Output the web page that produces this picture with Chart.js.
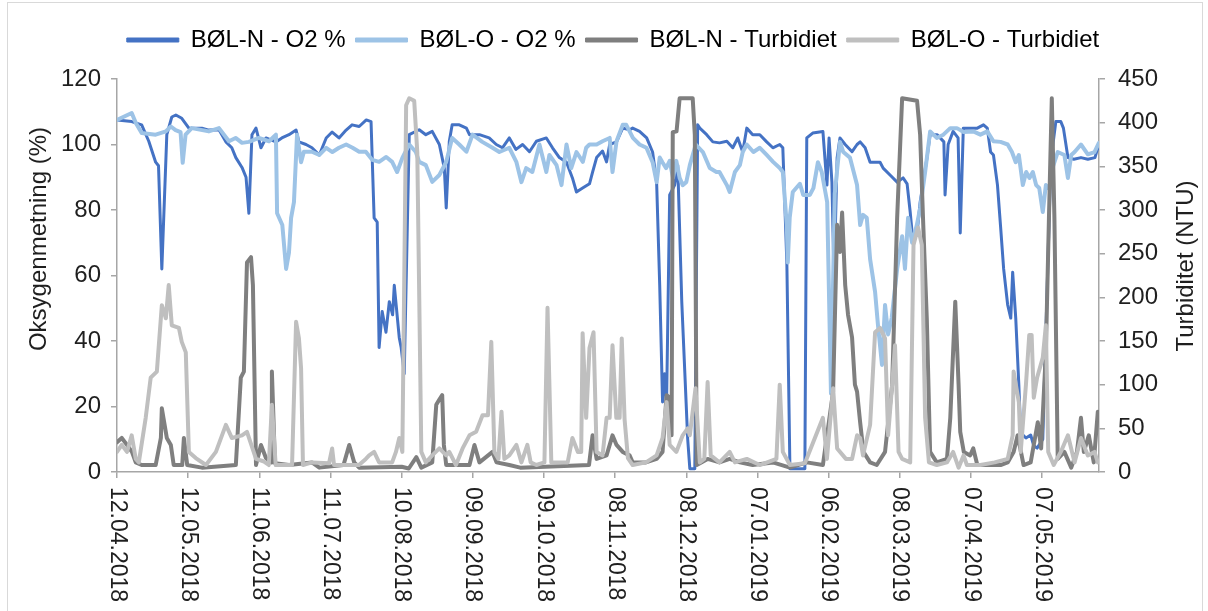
<!DOCTYPE html>
<html>
<head>
<meta charset="utf-8">
<title>BØL - O2 og turbiditet</title>
<script src="https://cdn.jsdelivr.net/npm/chart.js@4.4.1/dist/chart.umd.min.js"></script>
<style>
  html, body { margin: 0; padding: 0; background: #fff; }
  #wrap { width: 1208px; height: 611px; }
</style>
</head>
<body>
<div id="wrap"><canvas id="myChart" width="1208" height="611"></canvas></div>
<script>
// days counted from 12.04.2018 as [day, value]
const o2North = [[0,107.5],[6.2,107],[10.4,106],[13.4,101],[16.3,94.6],[17.5,93.5],[18.9,62],[21,103],[23.1,108.4],[24.8,109],[27.3,108],[30.3,105],[35.8,105],[38.7,104.4],[43,104.5],[45.9,100.8],[48.4,99],[50.1,96],[52.7,93],[54.4,90],[55.6,79],[56.9,103],[58.6,105],[60.7,99],[62.8,102],[67,100.8],[69.5,102],[72.5,103],[75.5,104.4],[76.7,100.8],[79.7,100],[82.2,99],[85.3,96.8],[88.2,102],[90.7,103.8],[93.6,102],[96.6,104.4],[99.1,106],[102.1,105.5],[105.1,107.5],[107.1,107],[108.4,77.6],[109.7,76.3],[110.5,38],[111.8,49],[113.4,42.7],[114.8,52],[116.2,48],[116.9,57],[119,41],[119.8,38],[121.1,30],[123.2,103],[127.4,104.5],[130.2,103],[132.9,104],[135.9,100],[138,92.8],[138.8,80.6],[140.1,101],[141.3,106],[144.3,106],[147.3,105],[148.6,103],[152.8,103],[156.9,102],[159.9,100],[162.5,99],[165.4,102],[168.2,98.5],[171,100],[173.9,97.8],[176.8,101],[181,102],[183.6,99],[186.5,96],[189.5,94.6],[192,89.8],[193.7,85.5],[196.3,86.7],[199.2,88],[200.5,91.6],[202.2,96],[204.7,98],[206.4,94.7],[207.7,100],[210.6,100.8],[213.2,105],[216.1,104.5],[217.4,105],[220.3,104],[223.3,102],[225.8,97.7],[227.5,88.5],[228.8,57],[230,21.4],[230.9,30],[231.7,21],[233,84.6],[235.1,87.6],[236.4,93.7],[238.1,52],[240.6,10],[241.5,1],[243.6,1],[244.8,106],[245.7,105],[248.6,103],[251.2,100.8],[254,100.5],[257.1,101],[259.6,99],[261.7,102],[263.8,97.7],[265.5,105],[268,103],[271,103],[273.9,100.8],[276.5,99],[279.4,100],[280.7,99],[282.4,64],[283.7,1],[290,1],[290.8,102],[293.3,103.5],[297.6,104],[299.3,87.6],[300.2,102],[301.4,88.5],[302.3,59],[303.6,96],[304.8,102],[307,100],[309.9,97.8],[312,100],[313.3,100.8],[315.4,99],[317.5,94.6],[321.7,94.6],[323,92.8],[325.9,90.7],[328.9,88.5],[331.4,89.8],[333.1,88],[334.4,79.4],[335.6,70],[337.3,73],[338.6,82.4],[341.5,96],[342.8,103],[345.8,103],[348.6,100.8],[349.1,84.6],[350.4,100],[352.5,104],[354.6,102],[355.5,73],[356.8,105],[361,105],[362.7,105],[365.3,106],[366.9,105],[368.3,97.7],[369.5,96.8],[371.2,87.6],[372.5,75],[373.8,62],[375.5,51],[376.8,47],[377.6,61],[378.9,47],[380.2,26.6],[381,12],[383.2,10.4],[385.2,11.3],[386.5,8],[387.9,7.3],[390.3,10],[393.7,95],[395.8,107],[397.9,107],[399,105],[400.9,96],[403.4,95.5],[406.4,96],[409.3,95.5],[412.3,96],[413.9,100]];

const o2East = [[0,107.5],[6.2,109.6],[8,106.5],[10.4,103.5],[16.3,103],[20.6,104],[22.7,105.5],[24.7,104.4],[26.8,103.8],[27.7,94.4],[28.9,103],[31.5,105],[38.7,104],[43,105],[47.2,101],[50,102],[52.7,100.5],[55.6,100.8],[59.8,102],[64.1,101],[67,103],[67.5,79],[69.7,75.4],[71.3,62],[72.5,67],[73.4,77.6],[74.6,82.4],[75.9,103],[77.6,94.6],[78.8,97.8],[82.2,97.8],[85.3,96.8],[88.2,99],[90.8,97.7],[93.6,99],[96.6,100],[99.3,99],[102.1,97.8],[104.9,97.8],[107.6,95.3],[110.5,94.7],[113.5,96.2],[116,94.7],[118.1,91.6],[120.3,95.9],[123.2,100],[126,97.7],[127.4,94.7],[130.2,93.7],[132.9,88.6],[135.9,90.7],[138.8,94.7],[141.3,102],[144.3,100],[147.3,97.8],[149.9,103],[154,100.8],[158.3,99],[161.2,97.7],[165.4,99],[168.4,94.6],[170.5,88.5],[172.5,92.8],[175.1,91.6],[178.1,100],[181,91.6],[182.3,96.8],[185.3,93.7],[187.4,87.6],[189.5,100],[191.5,92.8],[193.7,97.7],[196.4,94.7],[197.8,99],[199.2,100],[202.2,100],[204.7,101],[207.7,102],[208.9,91.6],[210.6,101],[213.2,106],[214.7,106],[217.5,102],[220.3,100],[223.2,99],[225.8,94.6],[227.5,88.5],[228.8,96],[230,94.5],[231.5,92.8],[233,95],[234.4,89.8],[235.8,95],[237.2,89.8],[238.5,87.6],[240,88.5],[241.5,93.7],[244,100],[247,97.7],[249.9,92.8],[252.7,91.6],[254,91.6],[257.1,87.6],[258.3,85.5],[260.5,91.6],[262.6,93.7],[263.8,97.7],[265.5,100],[268.3,97.7],[271,99],[273.9,96.8],[276.6,94.7],[279.4,92.8],[280.7,91.6],[282.4,75],[282.8,64],[283.6,77.6],[284.9,85.5],[287.9,88],[289.3,84.6],[292.1,84.6],[293.6,86.7],[295.5,94.6],[297.1,91.6],[299.4,82.4],[301,24],[302.6,85],[304.8,100.8],[306.2,97.7],[309,96],[312,87.6],[313.3,75.4],[314.5,78.5],[316.1,77.6],[317.5,65],[319.6,55],[320.8,45],[322.5,32.7],[323.8,51],[325.1,42],[326.6,47],[328.9,62],[331,72],[332.2,62],[333.5,77.6],[335.2,70],[337.2,75.4],[338.6,80.6],[340.7,91.6],[342.8,104],[345.6,102],[348.4,103],[351.3,105],[354.1,105],[356.9,103.8],[361,104],[364,103],[366.9,104],[369.5,101],[372.5,100.8],[375.5,100],[377.3,97.7],[378.9,94.6],[380.2,96.8],[381.9,87.6],[383.3,91.6],[384.7,89.8],[386.1,91.6],[387.5,87.6],[388.8,86.7],[390.3,79.4],[391.6,87.6],[393,86.5],[394.5,93],[396.6,97.7],[399.4,96.8],[400.9,89.8],[402.3,96.8],[403.7,97.7],[406.4,100],[409.3,97],[412.1,97.7],[413.9,100.4]];

const turbNorth = [[0,34],[2,39],[4.2,31],[6.3,23],[7.9,11],[10.4,8],[16.3,8],[18.5,39],[18.9,73],[21,39],[22.7,31],[23.9,8],[27.5,8],[28.2,39],[29.6,8],[35.8,5],[50.1,8],[52.2,108],[53.5,115],[54.8,240],[56.5,246],[57.3,214],[58.6,8],[60.7,31],[62.8,16],[65,11],[65.3,115],[66.6,10],[72.5,8],[82.2,11],[85.3,5],[95.5,8],[97.9,31],[100,11],[102.1,5],[120,6],[123,4],[126.2,17],[128.3,5],[132.9,11],[134.6,77],[135.9,83],[137.1,88],[137.8,31],[138.8,8],[148.6,8],[150.7,31],[152.8,11],[158.3,23],[160,11],[165.4,8],[170,5],[199,8],[200.5,42],[202.2,15],[206.4,19],[208.9,42],[210.6,31],[213.2,23],[216.1,19],[217.4,11],[223,11],[227.5,15],[230,23],[231.7,88],[233,85],[233.8,42],[234.3,389],[235.9,390],[237.2,428],[242.7,428],[243.6,386],[244.4,8],[249,15],[254,11],[258.3,15],[262.6,11],[268,8],[276.5,11],[283.7,5],[290.8,11],[297.6,8],[301.9,92],[303.6,283],[304.8,252],[305.7,297],[307,214],[308.2,180],[309.9,154],[311.1,100],[312,92],[313.3,57],[314.7,23],[317.5,11],[320.3,8],[323.8,23],[326.8,100],[328.9,291],[331,428],[337.3,425],[338.6,386],[339.8,291],[341.4,176],[342.8,23],[345.6,11],[349.9,15],[351.3,62],[353.4,195],[354.8,100],[355.5,46],[357,23],[359.7,19],[361,27],[362.7,8],[372.5,8],[375.5,11],[378,23],[379.7,42],[382.2,8],[385.2,11],[388.2,57],[389.6,27],[391.6,137],[392.9,291],[394.1,428],[395.2,291],[396.6,15],[399.4,23],[402.3,5],[404.7,23],[406.4,62],[407.6,23],[409.7,42],[411.8,11],[413.5,69]];

const turbEast = [[0,23],[2,31],[4.2,23],[6.2,42],[7.9,15],[9.2,11],[12.1,62],[14.2,108],[16.8,115],[18.9,191],[20.6,176],[21.8,214],[23.1,168],[26.1,165],[27.3,149],[29,137],[30.3,23],[33.2,16],[37.5,8],[41.7,23],[45.9,54],[48.4,39],[52.7,42],[54.8,46],[58.6,15],[62,12],[64,8],[65.3,77],[66.9,8],[73.8,8],[75.5,172],[76.7,153],[77.6,119],[78.4,8],[82.2,11],[89.4,10],[90.7,27],[91.5,8],[102,8],[104.9,15],[106.3,19],[108.4,23],[110.5,11],[116,11],[117.6,23],[119,39],[120.3,23],[121.9,420],[123.2,428],[125.3,425],[126.6,366],[128.3,23],[130.2,11],[132.9,19],[135.9,27],[138.8,19],[140.1,23],[142.9,8],[145.7,27],[148.6,42],[151.4,46],[154.1,65],[156.4,65],[157.8,149],[159.1,23],[160.8,15],[162.1,69],[163.3,15],[165.4,19],[168.4,31],[170.5,11],[173,31],[174.4,11],[176.8,8],[180.2,11],[181.5,188],[183.1,11],[190,11],[192,39],[194.3,23],[195.7,23],[196.3,159],[197.8,62],[199.2,142],[200.9,160],[202.2,23],[204.7,19],[206.4,62],[207.7,62],[208.9,145],[210.5,62],[211.9,62],[212.8,153],[214,60],[215.4,16],[217.4,8],[223,11],[227.5,19],[230,39],[231.7,80],[233,31],[235.8,23],[238.5,42],[240.6,50],[241.5,42],[243.9,96],[245.7,11],[247.6,15],[249,103],[250.3,19],[254,11],[258.3,23],[260.5,11],[265.5,15],[271,8],[278,15],[279.4,100],[280.7,23],[283.7,8],[290,10],[297.6,62],[299.3,15],[301.9,96],[303.6,27],[307.3,15],[309.9,15],[312,42],[313.3,39],[314.5,19],[317.5,54],[319.6,160],[321.7,165],[323.8,153],[325.1,42],[326.8,100],[328,145],[329.5,23],[331,15],[334.4,11],[335.8,260],[337.7,280],[339.3,260],[340.7,62],[342.3,11],[345.6,8],[349.9,11],[352.5,23],[354.8,5],[356.9,19],[358.3,8],[364,8],[370,11],[375.5,15],[377.6,42],[378,115],[380.2,80],[381,23],[383.2,100],[384.6,157],[385.6,157],[386.5,85],[387.9,108],[390.3,131],[391.6,168],[392.6,23],[394.9,8],[397.9,23],[400.9,42],[403.7,11],[406.4,39],[409.3,19],[412.1,23],[413.5,11]];

const seriesNames = ['BØL-N - O2 %', 'BØL-O - O2 %', 'BØL-N - Turbidiet', 'BØL-O - Turbidiet'];
const tickDays = [0, 30, 60, 90, 120, 150, 180, 210, 240, 270, 300, 330, 360, 390];
const tickLabels = ['12.04.2018', '12.05.2018', '11.06.2018', '11.07.2018', '10.08.2018', '09.09.2018', '09.10.2018',
                    '08.11.2018', '08.12.2018', '07.01.2019', '06.02.2019', '08.03.2019', '07.04.2019', '07.05.2019'];
const leftTitle = 'Oksygenmetning (%)';
const rightTitle = 'Turbiditet (NTU)';

const fontFamily = '"Liberation Sans", Arial, sans-serif';
const textColor = '#1f1f1f';
const axisColor = '#a6a6a6';

function toPoints(pairs)
{
    return pairs.map(p => ({ x: p[0], y: p[1] }));
}

// x labels read top-to-bottom and the y titles bottom-to-top, so draw them here
const extraText = {
    id: 'extraText',
    beforeLayout(chart) {
        const lg = chart.legend;
        if (lg && !lg._fixed) {
            const fit = lg.fit;
            lg.fit = function () { fit.call(this); this.height = 61; };
            lg._fixed = true;
        }
    },
    afterDraw(chart) {
        const ctx = chart.ctx;
        const xs = chart.scales.x;
        ctx.save();
        ctx.fillStyle = textColor;
        ctx.font = '23px ' + fontFamily;
        ctx.textAlign = 'left';
        ctx.textBaseline = 'middle';
        tickDays.forEach((d, i) => {
            ctx.save();
            ctx.translate(xs.getPixelForValue(d), xs.top + 15);
            ctx.rotate(Math.PI / 2);
            ctx.fillText(tickLabels[i], 0, 0);
            ctx.restore();
        });

        ctx.font = '24px ' + fontFamily;
        ctx.textAlign = 'center';
        [[leftTitle, 39, 239], [rightTitle, 1186, 266]].forEach(t => {
            ctx.save();
            ctx.translate(t[1], t[2]);
            ctx.rotate(-Math.PI / 2);
            ctx.fillText(t[0], 0, 0);
            ctx.restore();
        });

        ctx.strokeStyle = '#d9d9d9';
        ctx.lineWidth = 1;
        ctx.strokeRect(7.5, 2.5, 1195, 640);
        ctx.restore();
    }
};

function lineSet(i, pairs, axis, color, width, order)
{
    return {
        label: seriesNames[i],
        data: toPoints(pairs),
        yAxisID: axis,
        borderColor: color,
        backgroundColor: color,
        borderWidth: width,
        borderJoinStyle: 'round',
        borderCapStyle: 'round',
        pointRadius: 0,
        tension: 0,
        fill: false,
        order: order
    };
}

const gridOpts = { drawOnChartArea: false, drawTicks: true, tickLength: 6, color: axisColor, lineWidth: 1.5 };
const borderOpts = { color: axisColor, width: 1.5 };

const ctx = document.getElementById('myChart');

new Chart(ctx, {
    type: 'line',
    data: {
        datasets: [
            lineSet(0, o2North, 'y', '#4472c4', 3, 3),
            lineSet(1, o2East, 'y', '#9dc3e6', 4, 2),
            lineSet(2, turbNorth, 'y1', '#7f7f7f', 4, 1),
            lineSet(3, turbEast, 'y1', '#bfbfbf', 4, 0)
        ]
    },
    options: {
        responsive: false,
        animation: false,
        devicePixelRatio: 1,
        layout: { padding: { top: 18, left: 18, right: 0, bottom: 0 } },
        plugins: {
            tooltip: { enabled: false },
            legend: {
                position: 'top',
                labels: {
                    font: { size: 24, family: fontFamily },
                    color: textColor,
                    boxWidth: 52,
                    boxHeight: 4,
                    padding: 10,
                    generateLabels: chart => chart.data.datasets.map((ds, i) => ({
                        text: ds.label,
                        fillStyle: ds.borderColor,
                        strokeStyle: ds.borderColor,
                        lineWidth: 1,
                        hidden: false,
                        datasetIndex: i
                    }))
                }
            }
        },
        scales: {
            x: {
                type: 'linear',
                min: 0,
                max: 414,
                afterBuildTicks: s => { s.ticks = tickDays.map(v => ({ value: v })); },
                afterFit: s => { s.height = 139; },
                ticks: { display: false },
                grid: gridOpts,
                border: borderOpts
            },
            y: {
                position: 'left',
                min: 0,
                max: 120,
                afterFit: s => { s.width = 99; },
                ticks: { stepSize: 20, padding: 10, color: textColor, font: { size: 24, family: fontFamily } },
                grid: gridOpts,
                border: borderOpts
            },
            y1: {
                position: 'right',
                min: 0,
                max: 450,
                afterFit: s => { s.width = 109; },
                ticks: { stepSize: 50, padding: 13, color: textColor, font: { size: 24, family: fontFamily } },
                grid: gridOpts,
                border: borderOpts
            }
        }
    },
    plugins: [extraText]
});
</script>
</body>
</html>
